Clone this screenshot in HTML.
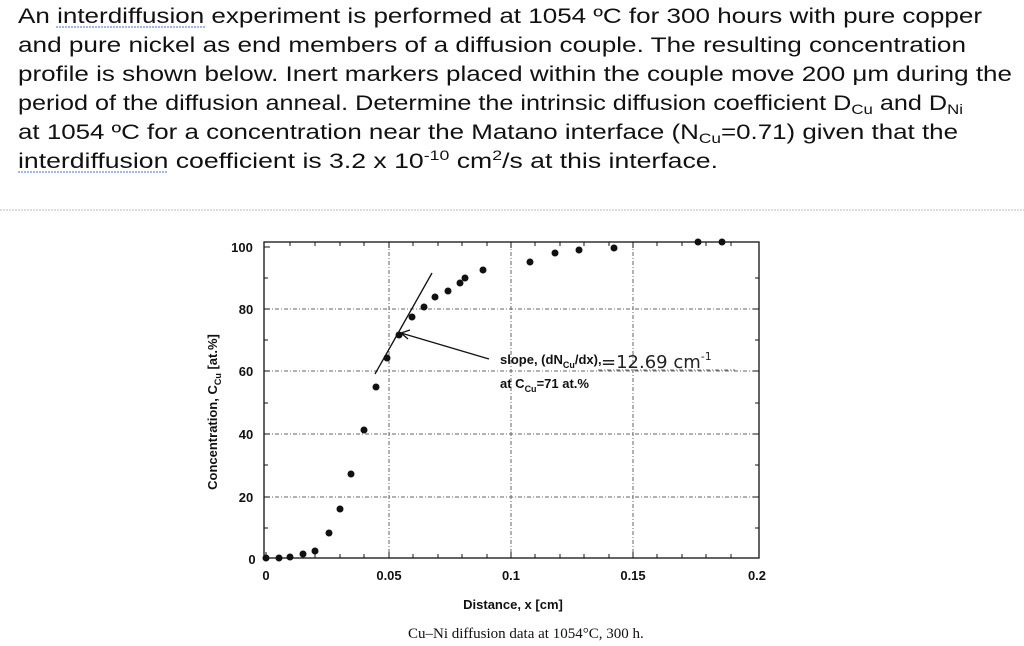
<!DOCTYPE html>
<html><head><meta charset="utf-8"><style>
html,body{margin:0;padding:0;background:#fff;width:1024px;height:646px;overflow:hidden}
svg{display:block}
.t{font-family:"Liberation Sans","NanumGothic",sans-serif;font-size:21px;fill:#111}
.a{font-family:"Liberation Sans",sans-serif;font-size:13px;font-weight:bold;fill:#111}
.g{stroke:#666;stroke-width:1;stroke-dasharray:4,2,1,2}
</style></head><body>
<svg width="1024" height="646" viewBox="0 0 1024 646" xmlns="http://www.w3.org/2000/svg">
<g class="t">
<text x="18" y="23" textLength="964" lengthAdjust="spacingAndGlyphs">An interdiffusion experiment is performed at 1054 ºC for 300 hours with pure copper</text>
<text x="18" y="52" textLength="948" lengthAdjust="spacingAndGlyphs">and pure nickel as end members of a diffusion couple. The resulting concentration</text>
<text x="18" y="81" textLength="994" lengthAdjust="spacingAndGlyphs">profile is shown below. Inert markers placed within the couple move 200 μm during the</text>
<text x="18" y="110" textLength="945" lengthAdjust="spacingAndGlyphs">period of the diffusion anneal. Determine the intrinsic diffusion coefficient D<tspan font-size="14" dy="4">Cu</tspan><tspan dy="-4"> and D</tspan><tspan font-size="14" dy="4">Ni</tspan></text>
<text x="18" y="139" textLength="940" lengthAdjust="spacingAndGlyphs">at 1054 ºC for a concentration near the Matano interface (N<tspan font-size="14" dy="4">Cu</tspan><tspan dy="-4">=0.71) given that the</tspan></text>
<text x="18" y="168" textLength="700" lengthAdjust="spacingAndGlyphs">interdiffusion coefficient is 3.2 x 10<tspan font-size="14" dy="-8">-10</tspan><tspan dy="8"> cm</tspan><tspan font-size="14" dy="-8">2</tspan><tspan dy="8">/s at this interface.</tspan></text>
</g>
<g stroke="#4a6fd0" stroke-width="1" fill="none" stroke-dasharray="2,1">
<line x1="56" y1="27" x2="205" y2="27"/><line x1="18" y1="172" x2="168" y2="172"/>
</g>
<line x1="0" y1="210" x2="1024" y2="210" stroke="#bbb" stroke-dasharray="2,1"/>
<g class="g">
<line x1="266" y1="309" x2="758" y2="309"/><line x1="266" y1="371" x2="758" y2="371"/><line x1="266" y1="434" x2="758" y2="434"/><line x1="266" y1="497" x2="758" y2="497"/>
<line x1="389" y1="243" x2="389" y2="558"/><line x1="511" y1="243" x2="511" y2="558"/><line x1="633" y1="243" x2="633" y2="558"/>
</g>
<rect x="264" y="242" width="495" height="316" fill="none" stroke="#111" stroke-width="1.3"/>
<g stroke="#111" stroke-width="1">
<path d="M266 558v-6M290 558v-4M315 558v-4M340 558v-4M364 558v-4M389 558v-6M413 558v-4M438 558v-4M462 558v-4M487 558v-4M511 558v-6M535 558v-4M560 558v-4M584 558v-4M609 558v-4M633 558v-6M657 558v-4M682 558v-4M706 558v-4M731 558v-4"/>
<path d="M264 247h6M264 278h4M264 309h6M264 340h4M264 371h6M264 403h4M264 434h6M264 465h4M264 497h6M264 528h4M759 278h-4M759 309h-6M759 340h-4M759 371h-6M759 403h-4M759 434h-6M759 465h-4M759 497h-6M759 528h-4"/>
<path d="M290 242v4M315 242v4M340 242v4M364 242v4M389 242v6M413 242v4M438 242v4M462 242v4M487 242v4M511 242v6M535 242v4M560 242v4M584 242v4M609 242v4M633 242v6M657 242v4M682 242v4M706 242v4M731 242v4"/>
</g>
<g class="a">
<text x="242" y="252" text-anchor="middle">100</text><text x="246" y="314" text-anchor="middle">80</text><text x="246" y="376" text-anchor="middle">60</text><text x="246" y="439" text-anchor="middle">40</text><text x="246" y="502" text-anchor="middle">20</text><text x="252" y="564" text-anchor="middle">0</text>
<text x="266" y="580" text-anchor="middle">0</text><text x="389" y="580" text-anchor="middle">0.05</text><text x="511" y="580" text-anchor="middle">0.1</text><text x="633" y="580" text-anchor="middle">0.15</text><text x="757" y="580" text-anchor="middle">0.2</text>
<text x="513" y="609" text-anchor="middle">Distance, x [cm]</text>
<text transform="translate(217,412) rotate(-90)" text-anchor="middle">Concentration, C<tspan font-size="9" dy="4">Cu</tspan><tspan dy="-4"> [at.%]</tspan></text>
<text x="500" y="364">slope, (dN<tspan font-size="9" dy="4">Cu</tspan><tspan dy="-4">/dx),</tspan></text>
<text x="500" y="388">at C<tspan font-size="9" dy="4">Cu</tspan><tspan dy="-4">=71 at.%</tspan></text>
</g>
<line x1="598" y1="370" x2="735" y2="370" class="g"/>
<text x="601" y="368" font-family="DejaVu Sans,sans-serif" font-size="18" fill="#222">=12.69 cm<tspan font-size="11" dy="-8">-1</tspan></text>
<text x="408" y="638" font-family="Liberation Serif,serif" font-size="15" fill="#111">Cu–Ni diffusion data at 1054°C, 300 h.</text>
<g fill="#111">
<circle cx="266" cy="558" r="3.5"/><circle cx="279" cy="558" r="3.5"/><circle cx="290" cy="557" r="3.5"/><circle cx="303" cy="554" r="3.5"/><circle cx="315" cy="551" r="3.5"/><circle cx="329" cy="533" r="3.5"/><circle cx="340" cy="509" r="3.5"/><circle cx="351" cy="474" r="3.5"/><circle cx="364" cy="430" r="3.5"/><circle cx="376" cy="387" r="3.5"/><circle cx="387" cy="358" r="3.5"/><circle cx="399" cy="335" r="3.5"/><circle cx="412" cy="317" r="3.5"/><circle cx="424" cy="307" r="3.5"/><circle cx="435" cy="297" r="3.5"/><circle cx="448" cy="291" r="3.5"/><circle cx="460" cy="283" r="3.5"/><circle cx="465" cy="278" r="3.5"/><circle cx="483" cy="270" r="3.5"/><circle cx="530" cy="262" r="3.5"/><circle cx="555" cy="253" r="3.5"/><circle cx="579" cy="250" r="3.5"/><circle cx="614" cy="248" r="3.5"/><circle cx="698" cy="242" r="3.5"/><circle cx="722" cy="242" r="3.5"/>
</g>
<g stroke="#111" stroke-width="1.3" fill="none">
<line x1="375" y1="374" x2="432" y2="273"/>
<line x1="489" y1="359" x2="401" y2="333"/>
<path d="M410 330l-9 3 7 6"/>
</g>
</svg>
</body></html>
